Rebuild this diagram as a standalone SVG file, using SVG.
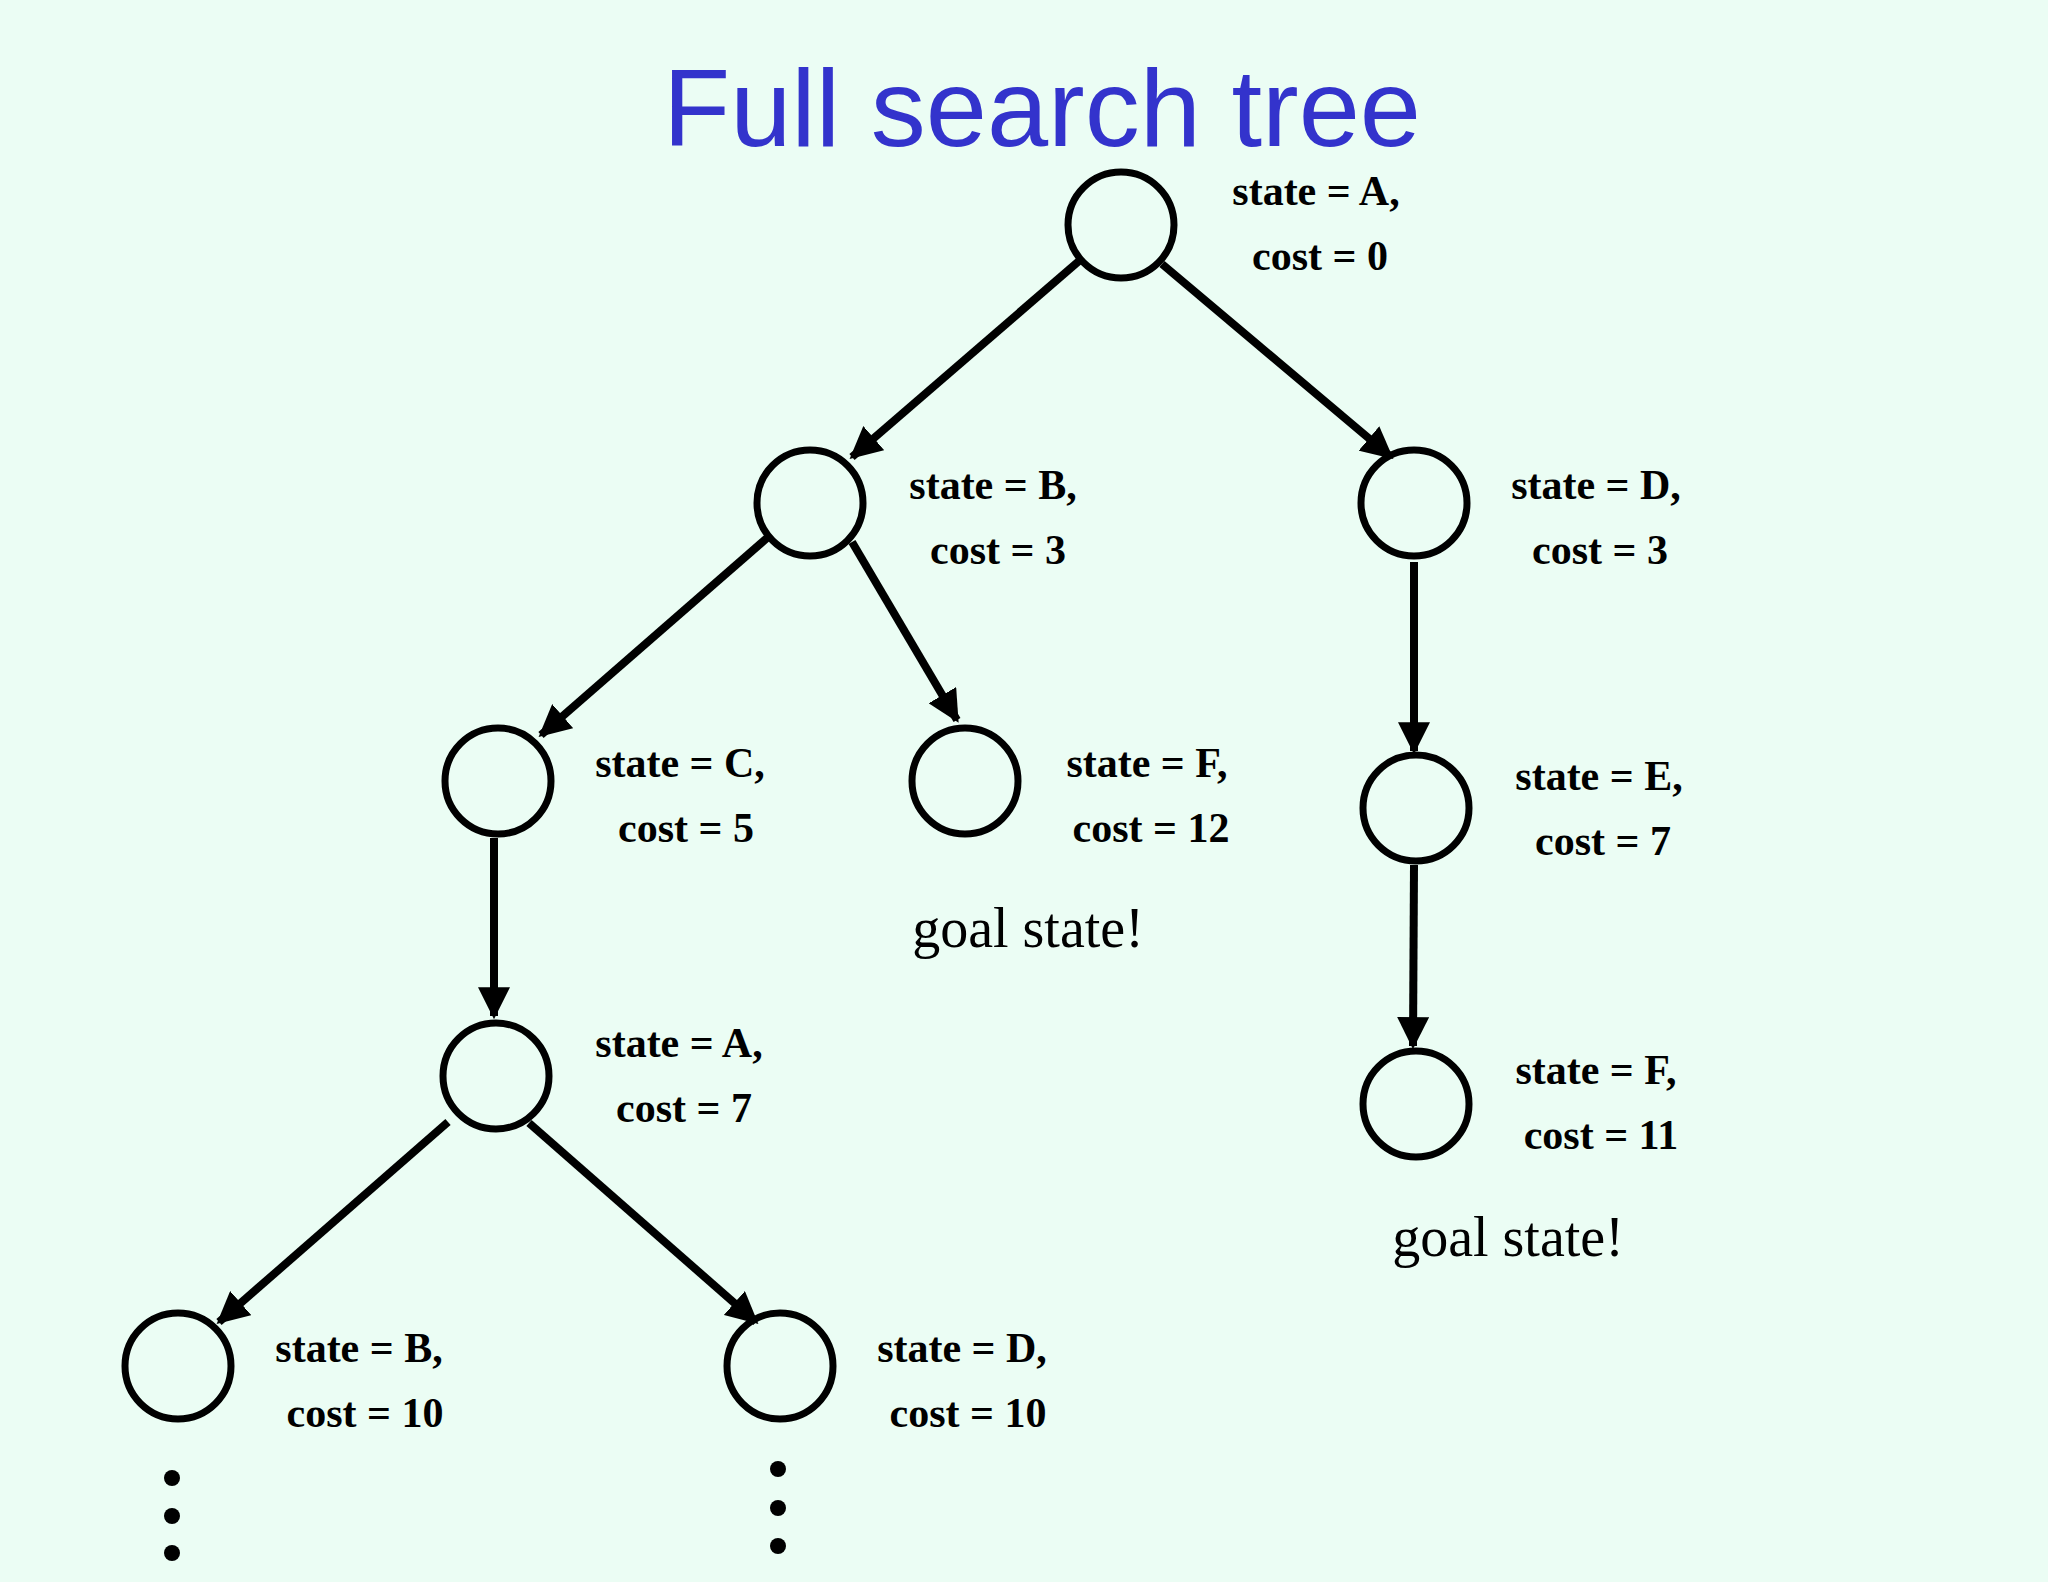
<svg xmlns="http://www.w3.org/2000/svg" width="2048" height="1582" viewBox="0 0 2048 1582">
<defs>
<style>
.n{fill:none;stroke:#000;stroke-width:7}
.l{font-family:"Liberation Serif",serif;font-weight:bold;font-size:42px;text-anchor:middle}
.g{font-family:"Liberation Serif",serif;font-size:56px;text-anchor:middle}
.e{stroke:#000;stroke-width:8;marker-end:url(#a)}
</style>
<marker id="a" viewBox="0 0 10 10" refX="9" refY="5" markerWidth="4" markerHeight="4" orient="auto" markerUnits="strokeWidth"><path d="M0,0L10,5L0,10z"/></marker>
</defs>
<rect width="2048" height="1582" fill="#ebfdf4"/>
<text x="1042" y="146" font-family="'Liberation Sans',sans-serif" font-size="110" fill="#3333cc" text-anchor="middle">Full search tree</text>
<g id="edges">
<line class="e" x1="1079" y1="261" x2="852" y2="457"/>
<line class="e" x1="1162" y1="264" x2="1391" y2="457"/>
<line class="e" x1="767" y1="538" x2="541" y2="735"/>
<line class="e" x1="852" y1="542" x2="957" y2="720"/>
<line class="e" x1="1414" y1="562" x2="1414" y2="751"/>
<line class="e" x1="494" y1="838" x2="494" y2="1016"/>
<line class="e" x1="1414" y1="865" x2="1413" y2="1046"/>
<line class="e" x1="448" y1="1122" x2="219" y2="1322"/>
<line class="e" x1="529" y1="1123" x2="756" y2="1322"/>
</g>
<g id="root"><circle class="n" cx="1121" cy="225" r="53"/><text class="l" x="1316" y="205">state = A,</text><text class="l" x="1320" y="270">cost = 0</text></g>
<g id="B"><circle class="n" cx="810" cy="503" r="53"/><text class="l" x="993" y="499">state = B,</text><text class="l" x="998" y="564">cost = 3</text></g>
<g id="D"><circle class="n" cx="1414" cy="503" r="53"/><text class="l" x="1596" y="499">state = D,</text><text class="l" x="1600" y="564">cost = 3</text></g>
<g id="C"><circle class="n" cx="498" cy="781" r="53"/><text class="l" x="680" y="777">state = C,</text><text class="l" x="686" y="842">cost = 5</text></g>
<g id="F"><circle class="n" cx="965" cy="781" r="53"/><text class="l" x="1147" y="777">state = F,</text><text class="l" x="1151" y="842">cost = 12</text><text class="g" x="1028" y="947">goal state!</text></g>
<g id="E"><circle class="n" cx="1416" cy="808" r="53"/><text class="l" x="1599" y="790">state = E,</text><text class="l" x="1603" y="855">cost = 7</text></g>
<g id="A2"><circle class="n" cx="496" cy="1076" r="53"/><text class="l" x="679" y="1057">state = A,</text><text class="l" x="684" y="1122">cost = 7</text></g>
<g id="F2"><circle class="n" cx="1416" cy="1104" r="53"/><text class="l" x="1596" y="1084">state = F,</text><text class="l" x="1601" y="1149">cost = 11</text><text class="g" x="1508" y="1256">goal state!</text></g>
<g id="B2"><circle class="n" cx="178" cy="1366" r="53"/><text class="l" x="359" y="1362">state = B,</text><text class="l" x="365" y="1427">cost = 10</text><circle cx="172" cy="1478" r="8"/><circle cx="172" cy="1516" r="8"/><circle cx="172" cy="1553" r="8"/></g>
<g id="D2"><circle class="n" cx="780" cy="1366" r="53"/><text class="l" x="962" y="1362">state = D,</text><text class="l" x="968" y="1427">cost = 10</text><circle cx="778" cy="1469" r="8"/><circle cx="778" cy="1508" r="8"/><circle cx="778" cy="1546" r="8"/></g>
</svg>
